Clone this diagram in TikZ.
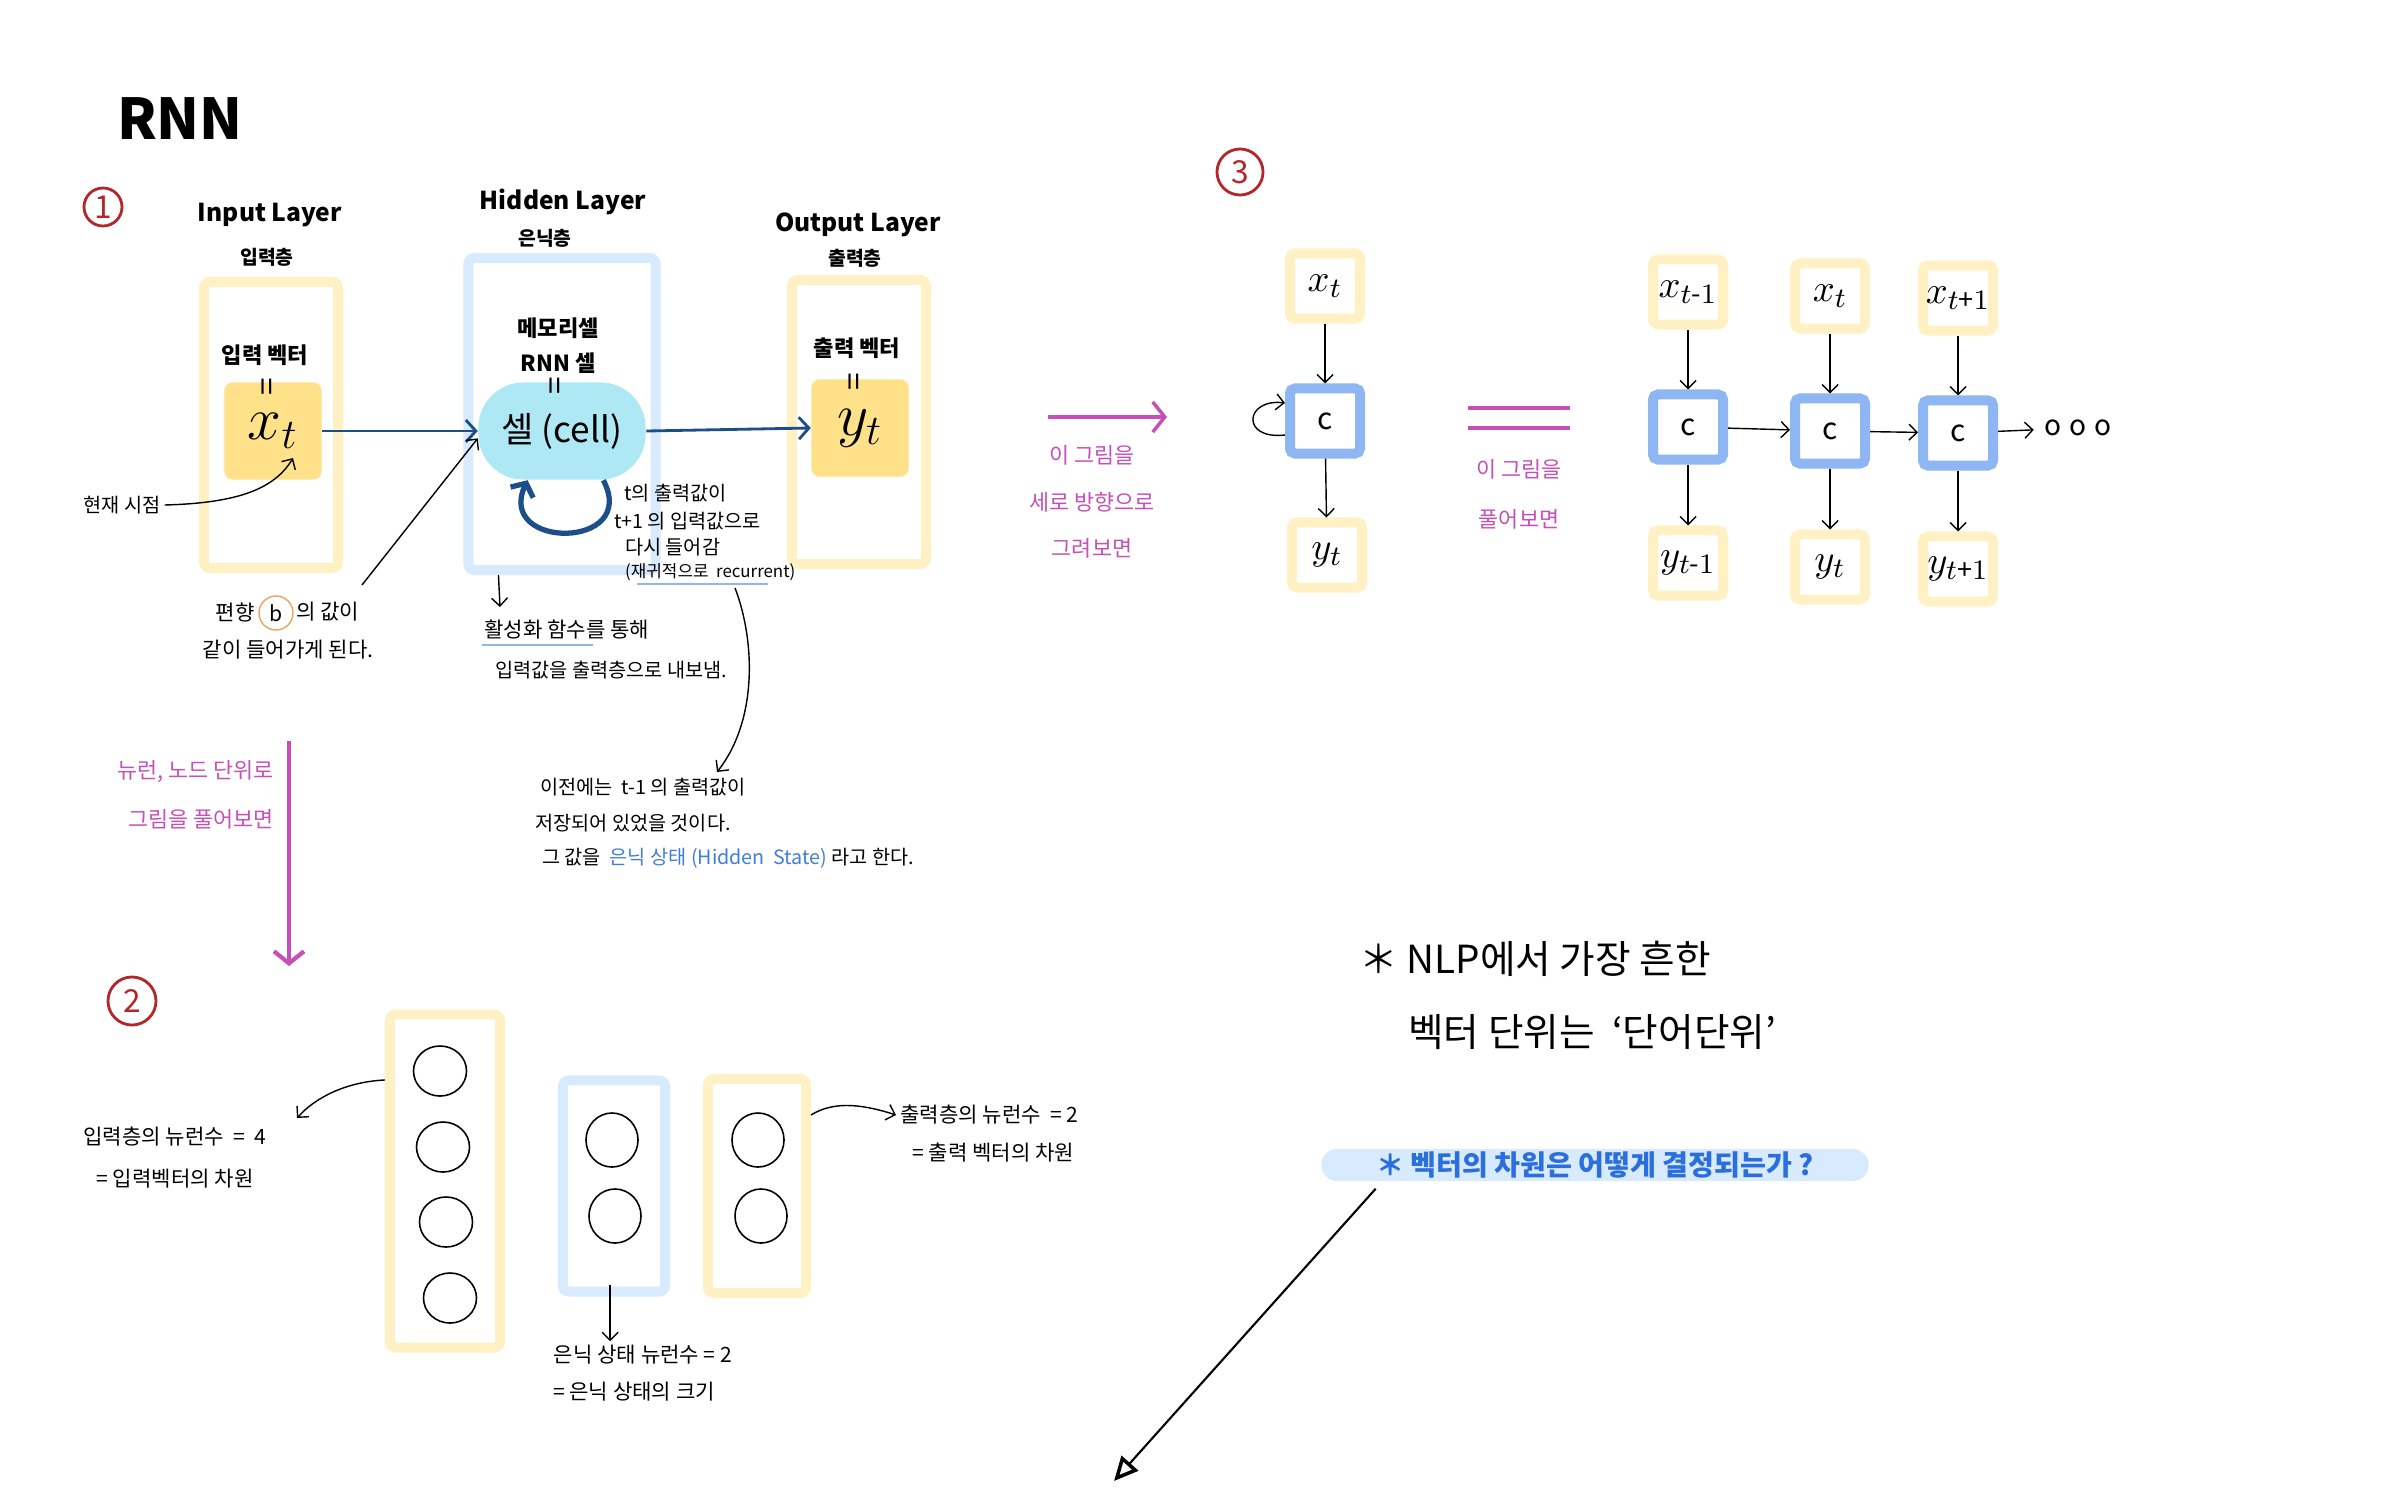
\documentclass[tikz,border=0pt]{standalone}
\usepackage{amsmath}
\usepackage{fontspec}
\setmainfont{Noto Sans CJK KR}
\usepackage{tikz}
\usetikzlibrary{arrows.meta,shapes.geometric,calc}
\newcommand{\handsize}[1]{\fontsize{#1}{#1}\selectfont}
\definecolor{padYellow}{HTML}{FFF1C4}
\definecolor{padGold}{HTML}{FFE18A}
\definecolor{padBlue}{HTML}{D8EAFD}
\definecolor{padCyan}{HTML}{ADE8F4}
\definecolor{padNavy}{HTML}{1D4E89}
\definecolor{padCell}{HTML}{8DB6F2}
\definecolor{padPink}{HTML}{C74FB6}
\definecolor{padRed}{HTML}{B3262A}
\definecolor{padInk}{HTML}{2A6FDB}
\definecolor{padSky}{HTML}{3F7FD8}
\definecolor{padLine}{HTML}{8FB8E8}
\definecolor{padOrange}{HTML}{E8A65A}
\tikzset{
  ttl/.style={font=\bfseries\handsize{7},inner sep=1pt},
  ttlk/.style={font=\bfseries\handsize{5.5},inner sep=1pt},
  lbl/.style={font=\bfseries\handsize{6.3},inner sep=1pt},
  note/.style={font=\handsize{5.6},inner sep=1pt},
  notesix/.style={font=\handsize{6},inner sep=1pt},
  bignote/.style={font=\handsize{11},inner sep=1pt},
  pinknote/.style={text=padPink,font=\handsize{6.2},inner sep=1pt},
  eqsign/.style={rotate=90,font=\handsize{9},inner sep=0pt},
  layerbox/.style={draw=#1,line width=0.1cm,rounded corners=0.06cm,inner sep=0pt},
  vecbox/.style={fill=padGold,rounded corners=0.08cm,minimum size=0.97cm,inner sep=0pt,font=\handsize{18}},
  cellbox/.style={fill=padCyan,rounded corners=0.45cm,minimum width=1.67cm,minimum height=0.97cm,inner sep=0pt,font=\handsize{10}},
  rnnbox/.style={draw=#1,line width=0.1cm,rounded corners=0.05cm,minimum width=0.7cm,minimum height=0.65cm,inner sep=0pt,font=\handsize{11}},
  cbox/.style={rnnbox=padCell,font=\handsize{8.5}},
  unit/.style={ellipse,draw,line width=0.45pt,minimum width=0.53cm,minimum height=0.5cm,inner sep=0pt},
  numcirc/.style={circle,draw=padRed,line width=0.8pt,text=padRed,inner sep=0pt,font=\handsize{9}},
  bcirc/.style={circle,draw=padOrange,line width=0.4pt,minimum size=0.34cm,inner sep=0pt,font=\handsize{6}},
  qpill/.style={fill=padBlue,rounded corners=0.16cm,minimum width=5.47cm,minimum height=0.32cm,inner sep=0pt,text=padInk,font=\bfseries\handsize{8}},
  navyarr/.style={draw=padNavy,line width=0.8pt,-{Straight Barb[length=0.1cm,width=0.22cm]}},
  loopline/.style={draw=padNavy,line width=1.5pt,-{Straight Barb[length=0.1cm,width=0.25cm]}},
  thinarr/.style={line width=0.4pt,-{Straight Barb[length=0.08cm,width=0.16cm]}},
  pinkarr/.style={draw=padPink,line width=1pt,-{Straight Barb[length=0.12cm,width=0.3cm]}},
  pinkline/.style={draw=padPink,line width=1.1pt},
  uline/.style={draw=padLine,line width=0.6pt},
  longarr/.style={line width=0.6pt,-{Triangle[open,length=0.24cm,width=0.22cm,line width=1pt]}},
}
\begin{document}
\begin{tikzpicture}[x=0.01cm,y=-0.01cm]
\useasboundingbox (0,0) rectangle (2386,1491);
\fill[white] (0,0) rectangle (2386,1491);

\node[font=\bfseries\handsize{16}] (rnn) at (180,119) {RNN};

% (1) input / hidden / output layer
\node[numcirc,minimum size=0.38cm] (num1) at (103,207) {1};
\node[ttl] (inttl) at (270,215) {Input Layer};
\node[ttlk] (inttlk) at (267,257) {입력층};
\node[layerbox=padYellow,minimum width=1.34cm,minimum height=2.86cm] (inframe) at (271,425) {};
\node[lbl] (invectxt) at (265,355) {입력 벡터};
\node[vecbox] (invec) at (273,431) {$x_t$};
\node[eqsign] (ineq) at (270,387) {=};

\node[ttl] (hidttl) at (563,202) {Hidden Layer};
\node[ttlk] (hidttlk) at (545,238) {은닉층};
\node[layerbox=padBlue,minimum width=1.87cm,minimum height=3.12cm] (hidframe) at (562,414) {};
\node[lbl] (memtxt) at (558,328) {메모리셀};
\node[lbl] (rnntxt) at (558,363) {RNN 셀};
\node[cellbox] (cell) at (562,431) {셀 (cell)};
\node[eqsign] (hideq) at (558,386) {=};

\node[ttl] (outttl) at (858,225) {Output Layer};
\node[ttlk] (outttlk) at (855,258) {출력층};
\node[layerbox=padYellow,minimum width=1.34cm,minimum height=2.84cm] (outframe) at (859,422) {};
\node[lbl] (outvectxt) at (857,348) {출력 벡터};
\node[vecbox] (outvec) at (860,428) {$y_t$};
\node[eqsign] (outeq) at (857,382) {=};

\draw[navyarr] (invec.east) -- (cell.west);
\draw[navyarr] (cell.east) -- (outvec.west);
\draw[loopline] (cell.-50) .. controls (640,550) and (495,550) .. (cell.-125);

% side notes
\node[note] (now) at (122,505) {현재 시점};
\coordinate (nowtip) at (293,458);
\draw[thinarr] (now.east) .. controls (240,503) and (275,488) .. (nowtip);

\node[notesix] (biasa) at (235,612) {편향};
\node[bcirc] (bias) at (276,613) {b};
\node[notesix,anchor=west] (biasb) at (292,612) {의 값이};
\node[notesix] (bias2) at (288,650) {같이 들어가게 된다.};
\coordinate (biastail) at (362,585);
\draw[thinarr] (biastail) -- (cell.185);

\foreach \x/\y/\t [count=\i] in {620/493/{t의 출력값이}, 610/521/{t+1 의 입력값으로},
                                 621/547/{다시 들어감}} {
  \node[note,anchor=west] (rec\i) at (\x,\y) {\t};
}
\node[note,font=\handsize{4.8},anchor=west] (rec4) at (621,572) {(재귀적으로 \ recurrent)};
\draw[uline] (637,584) -- (768,584);

\coordinate (acttip) at (500,607);
\draw[thinarr] ([xshift=0.35cm]hidframe.south west) -- (acttip);
\node[notesix,anchor=west] (act1) at (480,630) {활성화 함수를 통해};
\draw[uline] (482,645) -- (593,645);
\node[note] (act2) at (611,670) {입력값을 출력층으로 내보냄.};

\coordinate (rectail) at (735,588);
\coordinate (prevtip) at (717,772);
\draw[thinarr] (rectail) .. controls (755,640) and (758,720) .. (prevtip);
\node[note,anchor=west] (prev1) at (536,787) {이전에는 \ t-1 의 출력값이};
\node[note,anchor=west] (prev2) at (531,823) {저장되어 있었을 것이다.};
\node[note,anchor=west] (prev3) at (538,858) {그 값을 \ \textcolor{padSky}{은닉 상태 (Hidden \ State)} 라고 한다.};

% (3) vertical and unrolled
\node[numcirc,minimum size=0.46cm] (num3) at (1240,172) {3};
\coordinate (pinka) at (1048,417);
\coordinate (pinkb) at (1167,417);
\draw[pinkarr] (pinka) -- (pinkb);
\foreach \y/\t [count=\i] in {455/{이 그림을}, 502/{세로 방향으로}, 548/{그려보면}} {
  \node[pinknote] (vert\i) at (1092,\y) {\t};
}

\node[rnnbox=padYellow] (fx) at (1325,286) {$x_t$};
\node[cbox] (fc) at (1325,421) {c};
\node[rnnbox=padYellow] (fy) at (1327,555) {$y_t$};
\draw[thinarr] (fx) -- (fc);
\draw[thinarr] (fc) -- (fy);
\draw[thinarr] ([yshift=-0.14cm]fc.west) .. controls (1240,440) and (1245,398) .. ([yshift=0.18cm]fc.west);

\draw[pinkline] (1468,408) -- (1570,408);
\draw[pinkline] (1468,428) -- (1570,428);
\node[pinknote] (unroll1) at (1519,469) {이 그림을};
\node[pinknote] (unroll2) at (1519,519) {풀어보면};

\foreach \i/\x/\d/\s in {1/1688/0/{t\text{-}1}, 2/1830/4/t, 3/1958/6/{t\text{+}1}} {
  \node[rnnbox=padYellow] (x\i) at (\x,292+\d) {$x_{\s}$};
  \node[cbox] (c\i) at (\x,427+\d) {c};
  \node[rnnbox=padYellow] (y\i) at (\x,563+\d) {$y_{\s}$};
  \draw[thinarr] (x\i) -- (c\i);
  \draw[thinarr] (c\i) -- (y\i);
}
\node[font=\handsize{8},inner sep=0.1cm] (dots) at (2078,428) {o\hspace{0.08cm}o\hspace{0.08cm}o};
\draw[thinarr] (c1) -- (c2);
\draw[thinarr] (c2) -- (c3);
\draw[thinarr] (c3) -- (dots);

% (2) neurons
\coordinate (pinktop) at (289,741);
\coordinate (pinkbot) at (289,966);
\draw[pinkarr,line width=1.2pt] (pinktop) -- (pinkbot);
\node[pinknote,anchor=east] (unit1) at (278,772) {뉴런, 노드 단위로};
\node[pinknote,anchor=east] (unit2) at (278,819) {그림을 풀어보면};
\node[numcirc,minimum size=0.48cm] (num2) at (132,1001) {2};

\node[layerbox=padYellow,minimum width=1.10cm,minimum height=3.33cm] (nin) at (445,1181) {};
\foreach \i/\x/\y in {1/440/1071, 2/443/1147, 3/446/1222, 4/450/1298} {
  \node[unit] (i\i) at (\x,\y) {};
}
\node[layerbox=padBlue,minimum width=1.02cm,minimum height=2.11cm] (nhid) at (614,1186) {};
\foreach \i/\x/\y in {1/612/1140, 2/615/1216} {
  \node[unit,minimum height=0.54cm,minimum width=0.52cm] (h\i) at (\x,\y) {};
}
\node[layerbox=padYellow,minimum width=0.98cm,minimum height=2.14cm] (nout) at (757,1186) {};
\foreach \i/\x/\y in {1/758/1140, 2/761/1216} {
  \node[unit,minimum height=0.54cm,minimum width=0.52cm] (o\i) at (\x,\y) {};
}

\node[notesix] (inn1) at (175,1137) {입력층의 뉴런수 \ = \ 4};
\node[notesix] (inn2) at (175,1179) {= 입력벡터의 차원};
\coordinate (inntip) at (297,1118);
\draw[thinarr] ([yshift=1.01cm]nin.west) .. controls (345,1082) and (315,1098) .. (inntip);

\node[notesix] (hst1) at (643,1355) {은닉 상태 뉴런수 = 2};
\node[notesix] (hst2) at (634,1392) {= 은닉 상태의 크기};
\draw[thinarr] ([xshift=-0.04cm,yshift=0.12cm]nhid.south) coordinate (hs) -- (hs |- hst1.north);

\node[notesix,anchor=west] (onn1) at (896,1115) {출력층의 뉴런수 \ = 2};
\node[notesix,anchor=west] (onn2) at (908,1153) {= 출력 벡터의 차원};
\draw[thinarr] ([yshift=0.71cm]nout.east) .. controls (835,1100) and (865,1105) .. (onn1.west);

% notes
\node[bignote,anchor=west] (nlp1) at (1355,959) {＊ NLP에서 가장 흔한};
\node[bignote,anchor=west] (nlp2) at (1404,1032) {벡터 단위는 \ `단어단위'};
\node[qpill] (quest) at (1595,1165) {＊ 벡터의 차원은 어떻게 결정되는가 ?};
\coordinate (qtip) at (1114,1481);
\draw[longarr] ([xshift=0.55cm,yshift=-0.07cm]quest.south west) -- (qtip);
\end{tikzpicture}
\end{document}
